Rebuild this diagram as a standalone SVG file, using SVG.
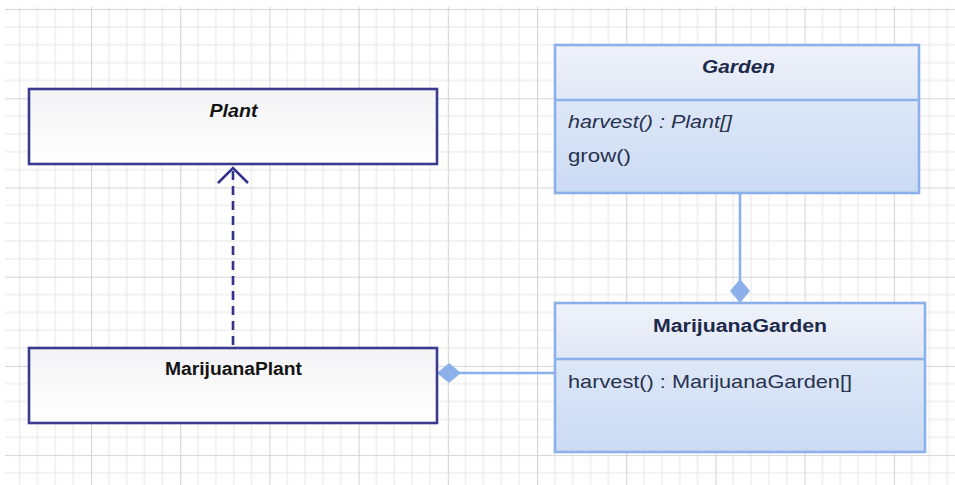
<svg xmlns="http://www.w3.org/2000/svg" width="955" height="485" viewBox="0 0 955 485">
  <style>
    .grid-minor { stroke: #e6e6e8; stroke-width: 1; }
    .grid-major { stroke: #d4d4d8; stroke-width: 1.2; }
    .plainbox { fill: url(#plainFill); stroke: #3a3a8e; stroke-width: 2.6; }
    .bluebox { stroke: #8cb0ea; stroke-width: 2.6; }
    .sep { stroke: #8cb0ea; stroke-width: 2.4; }
    .title { font-family: "Liberation Sans", Arial, sans-serif; font-weight: bold; font-size: 18px; text-anchor: middle; }
    .dark { fill: #141414; }
    .navy { fill: #1d2a4c; }
    .member { font-family: "Liberation Sans", Arial, sans-serif; font-size: 19px; fill: #27324f; }
    .italic { font-style: italic; }
    .assoc { stroke: #8cb0ea; stroke-width: 2.6; fill: none; }
    .realize { stroke: #33338a; stroke-width: 2.6; fill: none; }
  </style>
  <defs>
    <pattern id="grid" patternUnits="userSpaceOnUse" x="1.8" y="9.1" width="89.2" height="89.2">
      <path class="grid-minor" d="M17.84,0V89.2M35.68,0V89.2M53.52,0V89.2M71.36,0V89.2M0,17.84H89.2M0,35.68H89.2M0,53.52H89.2M0,71.36H89.2"/>
      <path class="grid-major" d="M0.5,0V89.2M0,0.5H89.2"/>
    </pattern>
    <linearGradient id="plainFill" x1="0" y1="0" x2="0" y2="1">
      <stop offset="0" stop-color="#f3f3f5"/>
      <stop offset="1" stop-color="#ffffff"/>
    </linearGradient>
    <linearGradient id="headFill" x1="0" y1="0" x2="0" y2="1">
      <stop offset="0" stop-color="#eff2f9"/>
      <stop offset="1" stop-color="#e1e8f6"/>
    </linearGradient>
    <linearGradient id="bodyFill" x1="0" y1="0" x2="0" y2="1">
      <stop offset="0" stop-color="#dde7f7"/>
      <stop offset="1" stop-color="#cbdbf4"/>
    </linearGradient>
    <marker id="diamond" markerUnits="userSpaceOnUse" viewBox="0 0 24 20" markerWidth="24" markerHeight="20" refX="24" refY="10" orient="auto">
      <path d="M0,10 L12,0 L24,10 L12,20 Z" fill="#8cb0ea"/>
    </marker>
  </defs>

  <rect x="0" y="0" width="955" height="485" fill="#ffffff"/>
  <rect x="5" y="7" width="950" height="478" fill="url(#grid)"/>

  <g id="connectors">
    <path class="realize" d="M233,171 V348" stroke-dasharray="9,6"/>
    <path class="realize" d="M218,183 L233,168 L248,183"/>
    <path class="assoc" d="M740,193 V303" marker-end="url(#diamond)"/>
    <path class="assoc" d="M555,373 H437" marker-end="url(#diamond)"/>
  </g>

  <g id="Plant">
    <rect class="plainbox" x="29" y="89" width="408" height="75"/>
    <text class="title dark italic" x="233.5" y="117" textLength="48" lengthAdjust="spacingAndGlyphs">Plant</text>
  </g>

  <g id="MarijuanaPlant">
    <rect class="plainbox" x="29" y="348" width="408" height="75"/>
    <text class="title dark" x="233.5" y="375" textLength="137" lengthAdjust="spacingAndGlyphs">MarijuanaPlant</text>
  </g>

  <g id="Garden">
    <rect x="555" y="45" width="364" height="55" fill="url(#headFill)"/>
    <rect x="555" y="100" width="364" height="93" fill="url(#bodyFill)"/>
    <rect class="bluebox" x="555" y="45" width="364" height="148" fill="none"/>
    <line class="sep" x1="555" y1="100" x2="919" y2="100"/>
    <text class="title navy italic" x="738.5" y="73" textLength="73" lengthAdjust="spacingAndGlyphs">Garden</text>
    <text class="member italic" x="568" y="128" textLength="164" lengthAdjust="spacingAndGlyphs">harvest() : Plant[]</text>
    <text class="member" x="568" y="162" textLength="63" lengthAdjust="spacingAndGlyphs">grow()</text>
  </g>

  <g id="MarijuanaGarden">
    <rect x="555" y="303" width="370" height="56" fill="url(#headFill)"/>
    <rect x="555" y="359" width="370" height="93" fill="url(#bodyFill)"/>
    <rect class="bluebox" x="555" y="303" width="370" height="149" fill="none"/>
    <line class="sep" x1="555" y1="359" x2="925" y2="359"/>
    <text class="title navy" x="740" y="332" textLength="174" lengthAdjust="spacingAndGlyphs">MarijuanaGarden</text>
    <text class="member" x="568" y="388" textLength="284" lengthAdjust="spacingAndGlyphs">harvest() : MarijuanaGarden[]</text>
  </g>
</svg>
